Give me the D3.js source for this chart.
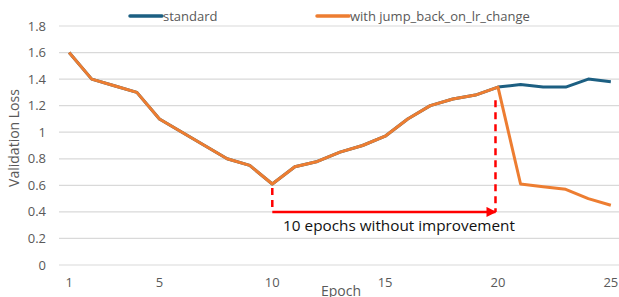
<!DOCTYPE html>
<html>
<head>
<meta charset="utf-8">
<script src="https://cdn.jsdelivr.net/npm/d3@7"></script>
<style>
  body { margin: 0; background: #fff; }
  svg { display: block; font-family: "Open Sans", sans-serif; }
</style>
</head>
<body>
<div id="chart"></div>
<script>
const epochs = d3.range(1, 26);
const standard = [1.6, 1.4, 1.35, 1.3, 1.1, 1.0, 0.9, 0.8, 0.75, 0.61,
                  0.74, 0.78, 0.85, 0.9, 0.97, 1.1, 1.2, 1.25, 1.28, 1.34,
                  1.36, 1.34, 1.34, 1.4, 1.38];
const jumpBack = [1.6, 1.4, 1.35, 1.3, 1.1, 1.0, 0.9, 0.8, 0.75, 0.61,
                  0.74, 0.78, 0.85, 0.9, 0.97, 1.1, 1.2, 1.25, 1.28, 1.34,
                  0.61, 0.59, 0.57, 0.5, 0.45];
const xTicks = [1, 5, 10, 15, 20, 25];
const yTicks = [0, 0.2, 0.4, 0.6, 0.8, 1, 1.2, 1.4, 1.6, 1.8];
const seriesNames = ["standard", "with jump_back_on_lr_change"];
const colors = ["#1c5f82", "#ed7d31"];
const annotation = { from: 10, to: 20, level: 0.4, label: "10 epochs without improvement" };

const width = 619, height = 297;

const svg = d3.select("#chart").append("svg")
  .attr("width", width)
  .attr("height", height);

const x = d3.scaleLinear().domain([0.55, 25.45]).range([59, 621]);
const y = d3.scaleLinear().domain([0, 1.8]).range([265, 26]);

// gridlines
svg.append("g")
  .selectAll("line")
  .data(yTicks)
  .join("line")
    .attr("x1", 59).attr("x2", width)
    .attr("y1", d => y(d)).attr("y2", d => y(d))
    .attr("stroke", "#d9d9d9")
    .attr("stroke-width", 1.2);

// y tick labels
svg.append("g")
  .selectAll("text")
  .data(yTicks)
  .join("text")
    .attr("x", 46)
    .attr("y", d => y(d) + 4.5)
    .attr("text-anchor", "end")
    .attr("fill", "#595959")
    .style("font-size", "13px")
    .text(d => d3.format("~g")(d));

// x tick labels
svg.append("g")
  .selectAll("text")
  .data(xTicks)
  .join("text")
    .attr("x", d => x(d))
    .attr("y", 287)
    .attr("text-anchor", "middle")
    .attr("fill", "#595959")
    .style("font-size", "13px")
    .text(d => d);

// axis titles
svg.append("text")
  .attr("transform", "rotate(-90)")
  .attr("x", -138)
  .attr("y", 19)
  .attr("text-anchor", "middle")
  .attr("fill", "#595959")
  .style("font-size", "14px")
  .text("Validation Loss");

svg.append("text")
  .attr("x", 341)
  .attr("y", 296)
  .attr("text-anchor", "middle")
  .attr("fill", "#595959")
  .style("font-size", "14px")
  .text("Epoch");

// lines
const line = d3.line()
  .x((d, i) => x(epochs[i]))
  .y(d => y(d));

[standard, jumpBack].forEach((s, i) => {
  svg.append("path")
    .datum(s)
    .attr("fill", "none")
    .attr("stroke", colors[i])
    .attr("stroke-width", 3)
    .attr("stroke-linejoin", "round")
    .attr("d", line);
});

// annotation
const red = "#ff0000";
svg.append("defs").append("marker")
  .attr("id", "arrow")
  .attr("viewBox", "0 0 10 10")
  .attr("refX", 9).attr("refY", 5)
  .attr("markerWidth", 4).attr("markerHeight", 4)
  .attr("orient", "auto")
  .append("path")
    .attr("d", "M0,0L10,5L0,10z")
    .attr("fill", red);

const ax1 = x(annotation.from), ax2 = x(annotation.to) - 2.5, ay = y(annotation.level);

svg.append("line")
  .attr("x1", ax1).attr("x2", ax1)
  .attr("y1", y(jumpBack[annotation.from - 1]) + 4).attr("y2", ay)
  .attr("stroke", red).attr("stroke-width", 2.5)
  .attr("stroke-dasharray", "7,5");

svg.append("line")
  .attr("x1", ax2).attr("x2", ax2)
  .attr("y1", y(1.24)).attr("y2", ay)
  .attr("stroke", red).attr("stroke-width", 2.5)
  .attr("stroke-dasharray", "7,5");

svg.append("line")
  .attr("x1", ax1).attr("x2", ax2)
  .attr("y1", ay).attr("y2", ay)
  .attr("stroke", red).attr("stroke-width", 2.5)
  .attr("marker-end", "url(#arrow)");

svg.append("text")
  .attr("x", 399)
  .attr("y", 231)
  .attr("text-anchor", "middle")
  .attr("fill", "#111")
  .style("font-size", "15.3px")
  .text(annotation.label);

// legend
const legendX = [130, 317];
const legend = svg.append("g")
  .selectAll("g")
  .data(seriesNames)
  .join("g")
    .attr("transform", (d, i) => `translate(${legendX[i]}, 16)`);

legend.append("line")
  .attr("x1", 0).attr("x2", 32)
  .attr("stroke", (d, i) => colors[i])
  .attr("stroke-width", 3.5)
  .attr("stroke-linecap", "round");

legend.append("text")
  .attr("x", 33)
  .attr("y", 5)
  .attr("fill", "#595959")
  .style("font-size", "13px")
  .text(d => d);
</script>
</body>
</html>
